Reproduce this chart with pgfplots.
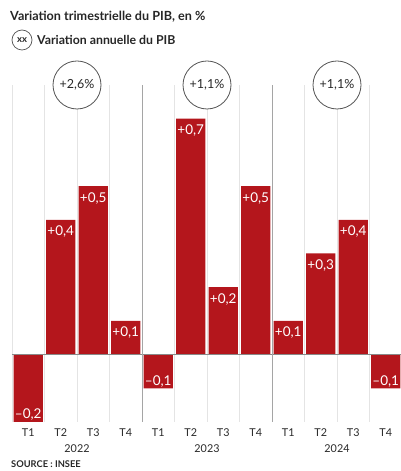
\documentclass[border=0pt]{standalone}
\usepackage{fontspec}
\setmainfont{Lato}
\usepackage{pgfplots}
\pgfplotsset{compat=1.18}
\usepackage{pgfplotstable}
\definecolor{barred}{RGB}{180,22,28}
\definecolor{txtgray}{RGB}{40,40,40}
\definecolor{lightgrid}{RGB}{228,228,228}
\definecolor{yeargrid}{RGB}{165,165,165}
\pgfplotstableread{
x y lab
0 -0.2 –0,2
1 0.4 +0,4
2 0.5 +0,5
3 0.1 +0,1
4 -0.1 –0,1
5 0.7 +0,7
6 0.2 +0,2
7 0.5 +0,5
8 0.1 +0,1
9 0.3 +0,3
10 0.4 +0,4
11 -0.1 –0,1
}\bars
\pgfplotstableread{
x y lab
1 0.4 +0,4
2 0.5 +0,5
3 0.1 +0,1
5 0.7 +0,7
6 0.2 +0,2
7 0.5 +0,5
8 0.1 +0,1
9 0.3 +0,3
10 0.4 +0,4
}\pos
\pgfplotstableread{
x y lab
0 -0.2 –0,2
4 -0.1 –0,1
11 -0.1 –0,1
}\negs
\pgfplotstableread{
x y lab
1.5 0.8 {+2,6\%}
5.5 0.8 {+1,1\%}
9.5 0.8 {+1,1\%}
}\annual
\begin{document}
\begin{tikzpicture}
\begin{axis}[
  at={(12pt,49pt)}, anchor=south west,
  scale only axis, width=390pt, height=337pt,
  xmin=-0.5, xmax=11.5, ymin=-0.2, ymax=0.8,
  enlargelimits=false, clip=false,
  axis line style={draw=none},
  xtick={0,...,11},
  xticklabels={T1,T2,T3,T4,T1,T2,T3,T4,T1,T2,T3,T4},
  xticklabel style={anchor=base, yshift=-14pt, font=\fontsize{10.8}{12}\selectfont, text=txtgray},
  minor xtick={-0.5,0.5,...,11.5},
  minor x grid style={lightgrid, line width=0.8pt},
  xminorgrids=true,
  ytick=\empty,
  major tick length=0pt, minor tick length=0pt,
]
\addplot[ybar, bar width=0.9, fill=barred, draw=none] table[x=x, y=y] {\bars};
\draw[txtgray!55, line width=0.7pt] (axis cs:-0.5,0) -- (axis cs:11.5,0);
\draw[yeargrid, line width=0.9pt] (axis cs:3.5,-0.2) -- (axis cs:3.5,0.8);
\draw[yeargrid, line width=0.9pt] (axis cs:7.5,-0.2) -- (axis cs:7.5,0.8);
\addplot[draw=none, mark=none, nodes near coords, point meta=explicit symbolic,
  nodes near coords style={anchor=north, yshift=-6pt, inner sep=0pt, text=white, font=\fontsize{13.5}{15}\selectfont}]
  table[x=x, y=y, meta=lab] {\pos};
\addplot[draw=none, mark=none, nodes near coords, point meta=explicit symbolic,
  nodes near coords style={anchor=base, yshift=3pt, inner sep=0pt, text=white, font=\fontsize{13.5}{15}\selectfont}]
  table[x=x, y=y, meta=lab] {\negs};
\addplot[draw=none, mark=none, nodes near coords, point meta=explicit symbolic,
  nodes near coords style={anchor=center, circle, draw=txtgray!80, line width=0.8pt, fill=white, minimum size=48pt, inner sep=0pt, text=txtgray, font=\fontsize{12.5}{14}\selectfont}]
  table[x=x, y=y, meta=lab] {\annual};
\node[anchor=base, text=txtgray, font=\fontsize{10.8}{12}\selectfont] at ([yshift=-30pt]axis cs:1.5,-0.2) {2022};
\node[anchor=base, text=txtgray, font=\fontsize{10.8}{12}\selectfont] at ([yshift=-30pt]axis cs:5.5,-0.2) {2023};
\node[anchor=base, text=txtgray, font=\fontsize{10.8}{12}\selectfont] at ([yshift=-30pt]axis cs:9.5,-0.2) {2024};
\end{axis}
\node[anchor=base west, inner sep=0pt, text=black!85, font=\bfseries\fontsize{12.6}{14}\selectfont] at (10pt,450.3pt) {Variation trimestrielle du PIB, en \%};
\node[circle, draw=txtgray!80, line width=0.7pt, minimum size=20pt, inner sep=0pt, text=txtgray, font=\bfseries\fontsize{9.5}{10}\selectfont] at (22pt,431pt) {xx};
\node[anchor=base west, inner sep=0pt, text=black!85, font=\bfseries\fontsize{12.3}{14}\selectfont] at (37pt,426.7pt) {Variation annuelle du PIB};
\node[anchor=base west, inner sep=0pt, text=txtgray, font=\bfseries\fontsize{9.3}{10}\selectfont] at (11pt,3pt) {SOURCE : INSEE};
\pgfresetboundingbox
\useasboundingbox (0,0) rectangle (400pt,471pt);
\end{tikzpicture}
\end{document}
